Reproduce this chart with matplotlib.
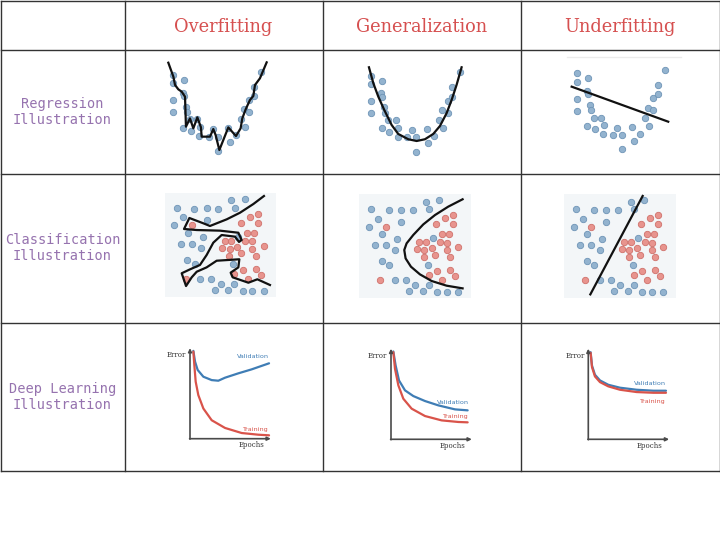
import matplotlib.pyplot as plt
from matplotlib.patches import Rectangle

W, H = 720, 546

# 표 머리글
columns = ["Overfitting", "Generalization", "Underfitting"]
rows = ["Regression\nIllustration", "Classification\nIllustration", "Deep Learning\nIllustration"]

# 회귀 산점도 (세 칸 모두 같은 점)
reg_x = [0.29, 0.29, 1.46, 1.36, 1.5, 0.29, 1.71, 0.29, 1.79, 2.14, 2.93, 1.43, 2.21, 3.21, 3.14,
         4.18, 4.64, 5.11, 5.11, 6.25, 6.43, 7.07, 7.57, 8.0, 7.93, 8.5, 8.5, 9.0, 9.0, 9.79]
reg_y = [8.96, 8.0, 8.38, 6.92, 6.54, 6.04, 5.31, 4.65, 4.69, 3.85, 3.85, 2.88, 2.5, 2.96, 1.92,
         1.85, 2.69, 1.85, 0.19, 2.81, 1.19, 2.0, 3.85, 2.92, 5.0, 4.69, 6.08, 6.54, 7.62, 9.35]

# 회귀 모델 선
over_reg_x = [-0.18, 0.36, 0.54, 0.89, 1.25, 1.61, 1.71, 2.14, 2.5, 2.93, 3.32, 3.39, 4.29, 4.64,
              4.89, 5.29, 6.25, 7.07, 7.57, 7.75, 8.11, 8.57, 8.93, 9.11, 9.64, 10.36]
over_reg_y = [10.38, 8.77, 7.81, 7.31, 7.04, 6.46, 3.0, 3.96, 2.81, 4.08, 2.92, 1.85, 1.85, 2.73,
              2.04, 0.31, 2.92, 1.92, 2.81, 3.96, 5.0, 6.08, 6.54, 7.81, 8.58, 10.42]
gen_reg_x = [0.07, 0.54, 1.07, 1.71, 2.5, 3.21, 4.29, 5.18, 6.07, 6.96, 7.68, 8.39, 8.93, 9.46, 10.0]
gen_reg_y = [9.92, 8.08, 6.54, 5.0, 3.27, 2.23, 1.62, 1.42, 1.62, 2.23, 3.15, 4.62, 6.15, 7.88, 9.92]
under_reg_x = [-0.25, 10.1]
under_reg_y = [7.42, 3.38]

# 분류 산점도
blue_x = [1.05, 2.63, 3.74, 4.79, 5.96, 7.16, 6.29, 1.65, 0.84, 3.74, 2.07, 3.41, 1.41, 2.40,
          3.23, 6.59, 2.01, 2.66, 6.14, 3.17, 4.16, 5.0, 6.23, 4.49, 5.69, 6.98, 7.84, 8.89]
blue_y = [8.55, 8.46, 8.49, 8.46, 9.26, 9.42, 8.52, 7.62, 6.85, 7.33, 6.17, 5.69, 5.05, 5.05,
          4.63, 5.76, 3.50, 3.15, 3.18, 1.70, 1.67, 1.25, 1.19, 0.61, 0.61, 0.51, 0.51, 0.51]
red_x = [2.40, 7.66, 8.38, 6.86, 8.38, 7.40, 8.02, 5.36, 5.96, 7.22, 7.84, 5.15, 5.81, 6.50,
         7.84, 8.86, 5.78, 6.83, 8.17, 6.98, 8.17, 6.23, 8.62, 7.43, 1.86]
red_y = [6.85, 7.68, 7.97, 7.07, 7.11, 6.14, 6.11, 5.40, 5.40, 5.40, 5.31, 4.69, 4.60, 4.76,
         4.60, 4.89, 3.92, 4.15, 3.92, 2.60, 2.64, 2.19, 2.06, 1.70, 1.70]

# 분류 경계선
over_cls_x = [8.89, 7.94, 6.74, 5.54, 4.04, 3.44, 2.19, 1.71, 2.85, 4.94, 6.59, 6.89, 6.65, 6.29,
              5.09, 4.34, 3.74, 3.14, 2.25, 1.50, 1.89, 2.40, 2.85, 3.74, 4.64, 6.68, 6.59, 5.90,
              6.08, 7.49, 8.30, 9.43]
over_cls_y = [9.69, 8.92, 8.08, 7.44, 6.80, 7.06, 7.57, 6.51, 6.41, 6.35, 6.15, 5.45, 5.26, 5.77,
              5.93, 5.19, 4.0, 3.04, 2.62, 2.24, 1.01, 1.85, 2.39, 2.81, 3.45, 3.59, 2.81, 2.30,
              1.85, 1.33, 1.66, 1.11]
gen_cls_x = [9.28, 7.99, 6.80, 5.75, 4.85, 4.25, 4.04, 4.16, 4.64, 5.45, 6.50, 7.84, 9.28]
gen_cls_y = [9.49, 8.78, 7.97, 7.07, 6.05, 5.24, 4.60, 3.79, 2.99, 2.25, 1.61, 1.16, 0.90]
under_cls_x = [2.34, 7.04]
under_cls_y = [0.32, 9.81]

# 딥러닝 학습 곡선
over_val_x = [0.42, 0.63, 0.96, 1.67, 2.71, 3.54, 4.38, 6.04, 7.71, 9.88]
over_val_y = [9.89, 8.68, 7.74, 6.98, 6.60, 6.53, 6.87, 7.36, 7.81, 8.49]
over_train_x = [0.42, 0.54, 0.71, 1.04, 1.67, 2.71, 4.38, 6.46, 8.54, 9.88]
over_train_y = [9.81, 8.30, 6.42, 4.91, 3.40, 2.08, 1.21, 0.64, 0.45, 0.38]
gen_val_x = [0.29, 0.58, 1.0, 1.75, 2.79, 4.25, 5.92, 8.0, 9.58]
gen_val_y = [9.89, 8.31, 6.63, 5.51, 4.87, 4.31, 3.82, 3.37, 3.26]
gen_train_x = [0.29, 0.5, 0.92, 1.54, 2.58, 4.25, 6.33, 8.42, 9.58]
gen_train_y = [9.81, 7.94, 6.07, 4.57, 3.45, 2.62, 2.13, 1.95, 1.91]
under_val_x = [0.29, 0.46, 0.83, 1.46, 2.5, 3.96, 6.04, 8.13, 9.71]
under_val_y = [9.81, 8.31, 7.27, 6.63, 6.14, 5.81, 5.58, 5.47, 5.47]
under_train_x = [0.29, 0.46, 0.83, 1.46, 2.5, 3.96, 6.04, 8.13, 9.71]
under_train_y = [9.74, 8.13, 7.08, 6.44, 5.96, 5.58, 5.32, 5.24, 5.24]

BLUE_DOT, BLUE_EDGE = "#93b3cf", "#6e94b6"
RED_DOT, RED_EDGE = "#e8948e", "#cf716b"
VAL_C, TRAIN_C = "#3f7db5", "#d9534a"

fig = plt.figure(figsize=(7.2, 5.46), dpi=100)

# 바탕 축 (픽셀 좌표)
base = fig.add_axes([0, 0, 1, 1])
base.set_xlim(0, W)
base.set_ylim(H, 0)
base.axis("off")

col_x = [0.5, 124.5, 322.5, 521, 719.5]
row_y = [0.5, 49.5, 174, 322.5, 471]
for x in col_x:
    base.plot([x, x], [row_y[0], row_y[-1]], color="#333333", lw=1)
for y in row_y:
    base.plot([col_x[0], col_x[-1]], [y, y], color="#333333", lw=1)

for i, name in enumerate(columns):
    cx = (col_x[i + 1] + col_x[i + 2]) / 2
    base.text(cx, 31.5, name, ha="center", va="baseline", family="DejaVu Serif",
              fontsize=12.8, color="#d65050")

for j, name in enumerate(rows):
    cy = (row_y[j + 1] + row_y[j + 2]) / 2
    base.text(62.5, cy, name, ha="center", va="center", family="DejaVu Sans Mono",
              fontsize=9.8, color="#9673af", linespacing=1.15)


def panel(box, x0, y0, sx, sy):
    # box: 셀 픽셀 영역, (x0, y0): 데이터 원점의 픽셀 위치, sx/sy: 단위당 픽셀
    L, T, R, B = box
    ax = fig.add_axes([L / W, 1 - B / H, (R - L) / W, (B - T) / H])
    ax.set_xlim((L - x0) / sx, (R - x0) / sx)
    ax.set_ylim((y0 - B) / sy, (y0 - T) / sy)
    ax.axis("off")
    return ax


col_boxes = [(126, 321), (324, 520), (522, 718)]

#######################################################
# 1. 회귀
#######################################################
reg_origin = [(170, 152.7), (368.3, 153.3), (574, 151)]
reg_lines = [(over_reg_x, over_reg_y), (gen_reg_x, gen_reg_y), (under_reg_x, under_reg_y)]
for (L, R), (x0, y0), (lx, ly) in zip(col_boxes, reg_origin, reg_lines):
    ax = panel((L, 51, R, 173), x0, y0, 9.33, 8.67)
    ax.plot(reg_x, reg_y, "o", ms=4.6, mfc=BLUE_DOT, mec=BLUE_EDGE, mew=0.6, zorder=2)
    ax.plot(lx, ly, color="#111111", lw=1.6, zorder=3)
    if lx is under_reg_x:
        ax.plot([-0.7, 11.5], [10.8, 10.8], color="#ebebeb", lw=1, zorder=1)

#######################################################
# 2. 분류
#######################################################
cls_origin = [(165, 296.5), (359.3, 297.7), (564.3, 297.7)]
cls_lines = [(over_cls_x, over_cls_y), (gen_cls_x, gen_cls_y), (under_cls_x, under_cls_y)]
for (L, R), (x0, y0), (lx, ly) in zip(col_boxes, cls_origin, cls_lines):
    ax = panel((L, 175.5, R, 321), x0, y0, 11.13, 10.37)
    ax.add_patch(Rectangle((0, 0), 10, 10, facecolor="#f3f6f8", edgecolor="none", zorder=0))
    ax.plot(blue_x, blue_y, "o", ms=4.6, mfc=BLUE_DOT, mec=BLUE_EDGE, mew=0.6, zorder=2)
    ax.plot(red_x, red_y, "o", ms=4.6, mfc=RED_DOT, mec=RED_EDGE, mew=0.6, zorder=2)
    ax.plot(lx, ly, color="#111111", lw=1.6, zorder=3)

#######################################################
# 3. 딥러닝 학습 곡선
#######################################################
dl_origin = [(190, 438.7), (391, 439.3), (588.3, 439.3)]
dl_curves = [(over_val_x, over_val_y, over_train_x, over_train_y),
             (gen_val_x, gen_val_y, gen_train_x, gen_train_y),
             (under_val_x, under_val_y, under_train_x, under_train_y)]
dl_labels = [((7.9, 9.3), (8.1, 1.05)), ((7.7, 4.2), (8.0, 2.6)), ((7.7, 6.25), (8.0, 4.3))]
for (L, R), (x0, y0), (vx, vy, tx, ty), (vpos, tpos) in zip(col_boxes, dl_origin, dl_curves, dl_labels):
    ax = panel((L, 324, R, 470), x0, y0, 8, 8.88)
    arrow = dict(arrowstyle="-|>", color="#4a4a4a", lw=1.2, mutation_scale=5, shrinkA=0, shrinkB=0)
    ax.annotate("", xy=(0, 10.2), xytext=(0, -0.05), arrowprops=arrow)
    ax.annotate("", xy=(10.1, 0), xytext=(-0.05, 0), arrowprops=arrow)
    ax.text(-0.45, 9.4, "Error", ha="right", va="center", family="DejaVu Serif",
            fontsize=5, color="#333333")
    ax.text(7.7, -0.7, "Epochs", ha="center", va="center", family="DejaVu Serif",
            fontsize=5, color="#333333")
    ax.plot(vx, vy, color=VAL_C, lw=1.6, solid_capstyle="round")
    ax.plot(tx, ty, color=TRAIN_C, lw=1.6, solid_capstyle="round")
    ax.text(vpos[0], vpos[1], "Validation", ha="center", va="center", fontsize=4.6, color=VAL_C)
    ax.text(tpos[0], tpos[1], "Training", ha="center", va="center", fontsize=4.6, color=TRAIN_C)

fig.savefig("out.png", dpi=100)
